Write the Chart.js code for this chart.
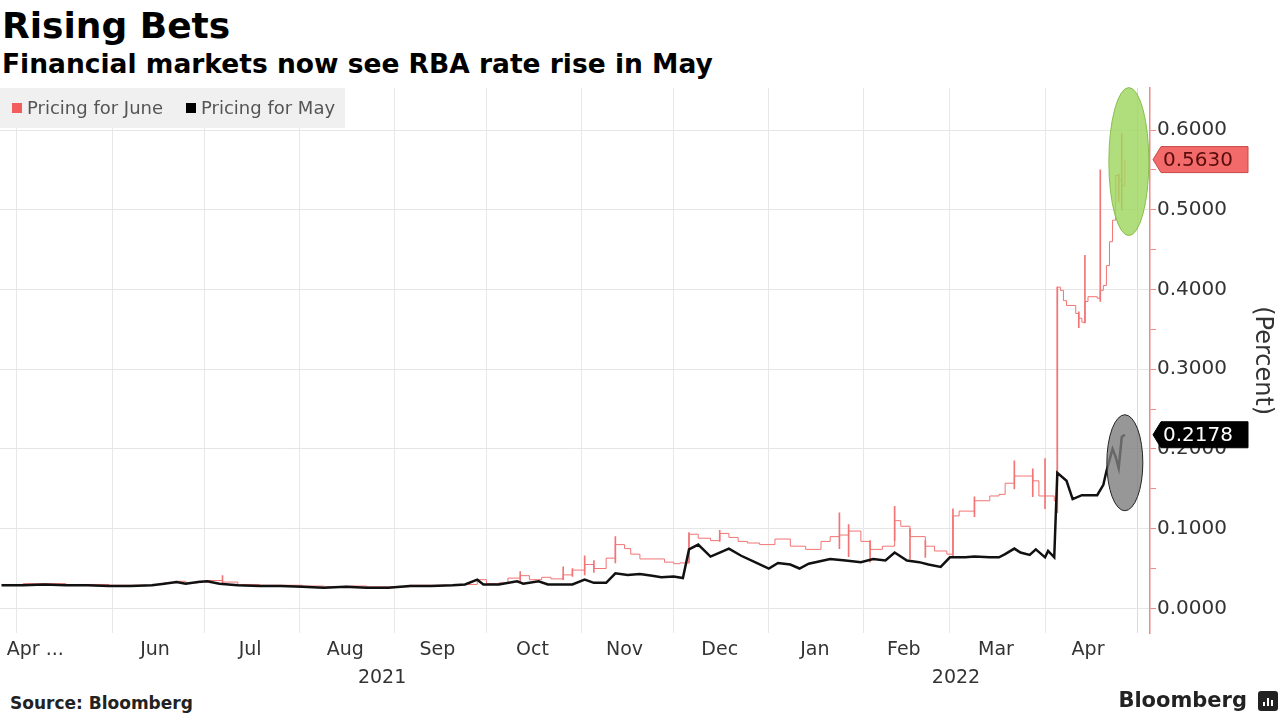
<!DOCTYPE html>
<html>
<head>
<meta charset="utf-8">
<title>Rising Bets</title>
<script src="https://cdn.jsdelivr.net/npm/chart.js@4.4.1/dist/chart.umd.min.js"></script>
<style>
body { margin: 0; background: #fff; font-family: "DejaVu Sans", Verdana, sans-serif; }
#page { position: relative; width: 1280px; height: 718px; overflow: hidden; background: #fff; }
#title { position: absolute; left: 2px; top: 4px; font-size: 36px; font-weight: bold; line-height: 44px; color: #000; }
#subtitle { position: absolute; left: 2px; top: 48px; font-size: 26.5px; font-weight: bold; line-height: 32px; color: #000; }
#wrap { position: absolute; left: 0; top: 80px; width: 1280px; height: 609px; }
#source { position: absolute; left: 10px; top: 693px; font-size: 17px; font-weight: bold; color: #222; }
#brand { position: absolute; right: 33px; top: 688px; font-size: 21px; font-weight: bold; color: #222; }
#logo { position: absolute; right: 2px; top: 691px; width: 20px; height: 20px; background: #222; border-radius: 3px; }
#logo span { position: absolute; bottom: 5px; width: 2px; background: #fff; }
</style>
</head>
<body>
<div id="page">
	<div id="title">Rising Bets</div>
	<div id="subtitle">Financial markets now see RBA rate rise in May</div>
	<div id="wrap"><canvas id="chart"></canvas></div>
	<div id="source">Source: Bloomberg</div>
	<div id="brand">Bloomberg</div>
	<div id="logo"><span style="left:5px;height:4px"></span><span style="left:9px;height:8px"></span><span style="left:13px;height:6px"></span></div>
</div>
<script>
// Pricing for May (black line)
var mayDates = [
	'2021-04-26','2021-05-03','2021-05-10','2021-05-17','2021-05-24','2021-05-31','2021-06-07','2021-06-14',
	'2021-06-18','2021-06-22','2021-06-25','2021-06-29','2021-07-02','2021-07-06','2021-07-12','2021-07-19',
	'2021-07-26','2021-08-02','2021-08-09','2021-08-16','2021-08-23','2021-08-30','2021-09-06','2021-09-13',
	'2021-09-20','2021-09-24','2021-09-28','2021-09-30','2021-10-05','2021-10-11','2021-10-13','2021-10-18',
	'2021-10-21','2021-10-25','2021-10-29','2021-11-02','2021-11-05','2021-11-09','2021-11-12','2021-11-16',
	'2021-11-20','2021-11-24','2021-11-27','2021-12-01','2021-12-04','2021-12-06','2021-12-09','2021-12-13',
	'2021-12-16','2021-12-19','2021-12-23','2021-12-28','2022-01-01','2022-01-04','2022-01-08','2022-01-11',
	'2022-01-14','2022-01-21','2022-01-26','2022-01-31','2022-02-04','2022-02-08','2022-02-11','2022-02-15',
	'2022-02-19','2022-02-22','2022-02-26','2022-03-01','2022-03-06','2022-03-09','2022-03-14','2022-03-17',
	'2022-03-19','2022-03-22','2022-03-24','2022-03-27','2022-03-29','2022-04-01','2022-04-02','2022-04-04',
	'2022-04-05','2022-04-08','2022-04-10','2022-04-13','2022-04-18','2022-04-20','2022-04-21','2022-04-23',
	'2022-04-24','2022-04-25','2022-04-26','2022-04-27'
];
var mayValues = [
	0.029, 0.029, 0.030, 0.029, 0.029, 0.028, 0.028, 0.029,
	0.031, 0.033, 0.031, 0.033, 0.034, 0.031, 0.029, 0.028,
	0.028, 0.027, 0.026, 0.027, 0.026, 0.026, 0.028, 0.028,
	0.029, 0.030, 0.036, 0.030, 0.030, 0.034, 0.031, 0.034,
	0.030, 0.030, 0.030, 0.036, 0.032, 0.032, 0.044, 0.042,
	0.043, 0.041, 0.039, 0.040, 0.038, 0.074, 0.080, 0.065,
	0.070, 0.075, 0.066, 0.057, 0.050, 0.057, 0.055, 0.050,
	0.056, 0.062, 0.060, 0.058, 0.062, 0.060, 0.070, 0.060,
	0.058, 0.055, 0.052, 0.064, 0.064, 0.065, 0.064, 0.064,
	0.068, 0.075, 0.070, 0.067, 0.074, 0.064, 0.072, 0.064,
	0.170, 0.160, 0.137, 0.142, 0.142, 0.155, 0.172, 0.200,
	0.190, 0.176, 0.215, 0.2178
];

// Pricing for June (pink, closes)
var junDates = [
	'2021-04-26','2021-05-03','2021-05-10','2021-05-17','2021-05-24','2021-05-31','2021-06-07','2021-06-14',
	'2021-06-18','2021-06-22','2021-06-25','2021-06-29','2021-07-02','2021-07-07','2021-07-12','2021-07-19',
	'2021-07-26','2021-08-02','2021-08-09','2021-08-16','2021-08-23','2021-08-30','2021-09-06','2021-09-13',
	'2021-09-20','2021-09-28','2021-10-01','2021-10-05','2021-10-08','2021-10-12','2021-10-15','2021-10-19',
	'2021-10-22','2021-10-26','2021-10-29','2021-11-02','2021-11-05','2021-11-09','2021-11-12','2021-11-15',
	'2021-11-17','2021-11-20','2021-11-24','2021-11-28','2021-12-01','2021-12-03','2021-12-06','2021-12-09',
	'2021-12-13','2021-12-16','2021-12-19','2021-12-22','2021-12-25','2021-12-29','2022-01-03','2022-01-08',
	'2022-01-13','2022-01-18','2022-01-21','2022-01-24','2022-01-27','2022-01-31','2022-02-03','2022-02-07',
	'2022-02-11','2022-02-13','2022-02-16','2022-02-21','2022-02-24','2022-02-28','2022-03-02','2022-03-04',
	'2022-03-09','2022-03-14','2022-03-17','2022-03-19','2022-03-22','2022-03-25','2022-03-28','2022-03-30',
	'2022-04-01','2022-04-04','2022-04-05','2022-04-06','2022-04-07','2022-04-08','2022-04-11','2022-04-12',
	'2022-04-13','2022-04-14','2022-04-15','2022-04-18','2022-04-19','2022-04-20','2022-04-21','2022-04-22',
	'2022-04-23','2022-04-24','2022-04-25','2022-04-26','2022-04-27'
];
var junClose = [
	0.030, 0.031, 0.031, 0.030, 0.030, 0.029, 0.029, 0.030,
	0.032, 0.034, 0.032, 0.034, 0.035, 0.033, 0.030, 0.029,
	0.029, 0.028, 0.027, 0.028, 0.027, 0.027, 0.029, 0.029,
	0.030, 0.036, 0.031, 0.032, 0.038, 0.041, 0.036, 0.039,
	0.037, 0.042, 0.048, 0.055, 0.050, 0.063, 0.080, 0.075,
	0.068, 0.062, 0.062, 0.058, 0.056, 0.057, 0.093, 0.088,
	0.085, 0.094, 0.089, 0.084, 0.082, 0.080, 0.087, 0.078,
	0.074, 0.084, 0.090, 0.092, 0.097, 0.084, 0.074, 0.078,
	0.110, 0.103, 0.090, 0.078, 0.072, 0.068, 0.116, 0.122,
	0.135, 0.141, 0.143, 0.157, 0.166, 0.166, 0.160, 0.141,
	0.141, 0.135, 0.403, 0.399, 0.386, 0.380, 0.370, 0.364,
	0.359, 0.385, 0.391, 0.389, 0.399, 0.405, 0.430, 0.460,
	0.487, 0.543, 0.537, 0.530, 0.563
];

// Pricing for June, intraday high/low spikes
var junRangeDates = [
	'2021-07-07','2021-10-12','2021-10-26','2021-10-29','2021-11-02','2021-11-05','2021-11-12','2021-12-06',
	'2021-12-16','2022-01-24','2022-01-27','2022-02-03','2022-02-11','2022-02-16','2022-02-21','2022-03-02',
	'2022-03-09','2022-03-22','2022-03-28','2022-04-01','2022-04-05','2022-04-12','2022-04-14','2022-04-19',
	'2022-04-25','2022-04-26'
];
var junRangeLow = [
	0.030, 0.034, 0.036, 0.040, 0.042, 0.045, 0.057, 0.057,
	0.084, 0.075, 0.065, 0.058, 0.085, 0.062, 0.064, 0.066,
	0.115, 0.150, 0.140, 0.125, 0.120, 0.352, 0.358, 0.385,
	0.510, 0.500
];
var junRangeHigh = [
	0.041, 0.046, 0.052, 0.050, 0.066, 0.060, 0.090, 0.095,
	0.098, 0.120, 0.105, 0.085, 0.128, 0.100, 0.085, 0.125,
	0.140, 0.185, 0.175, 0.188, 0.403, 0.372, 0.443, 0.550,
	0.545, 0.596
];

// axes
var monthGridDates = ['2021-05-01','2021-06-01','2021-07-01','2021-08-01','2021-09-01','2021-10-01','2021-11-01',
	'2021-12-01','2022-01-01','2022-02-01','2022-03-01','2022-04-01','2022-05-01'];
var monthLabels = ['Apr ...','Jun','Jul','Aug','Sep','Oct','Nov','Dec','Jan','Feb','Mar','Apr'];
var monthLabelDates = ['2021-05-07','2021-06-15','2021-07-16','2021-08-16','2021-09-15','2021-10-16','2021-11-15',
	'2021-12-16','2022-01-16','2022-02-14','2022-03-16','2022-04-15'];
var yearLabels = ['2021','2022'];
var yearLabelDates = ['2021-08-28','2022-03-03'];
var yMajorTicks = [0, 0.1, 0.2, 0.3, 0.4, 0.5, 0.6];
var yMinorTicks = [0.05, 0.15, 0.25, 0.35, 0.45, 0.55];

var FONT = '"DejaVu Sans", Verdana, sans-serif';
var PINK = '#f27474';
var AXIS_PINK = '#f08a8a';

var base = Date.parse('2021-05-01');
function toDay(d)
{
	return (Date.parse(d) - base) / 86400000;
}

var xMin = -5.5, xMax = 369.2;

function noPad(s)
{
	s.paddingLeft = 0;
	s.paddingRight = 0;
}

function labelAxis(dates, labels, weight, pad)
{
	return {
		type: 'linear', position: 'bottom', min: xMin, max: xMax, weight: weight, offset: false,
		afterBuildTicks: function(s) { s.ticks = dates.map(function(d) { return {value: toDay(d)}; }); },
		afterFit: noPad,
		ticks: {
			callback: function(v, i) { return labels[i]; },
			autoSkip: false, maxRotation: 0, minRotation: 0,
			font: {size: 19, family: FONT}, color: '#333', padding: pad
		},
		grid: {display: false, drawTicks: false},
		border: {display: false}
	};
}

// gray legend box sitting in the top left corner of the plot
var legendBox = {
	id: 'legendBox',
	beforeDatasetsDraw: function(chart)
	{
		var ctx = chart.ctx, a = chart.chartArea;
		var items = [chart.data.datasets[1], chart.data.datasets[0]];
		var xs = [12, 186];
		ctx.save();
		ctx.fillStyle = '#f0f0f0';
		ctx.fillRect(a.left, a.top, 345, 40);
		ctx.font = '18px ' + FONT;
		ctx.textBaseline = 'middle';
		items.forEach(function(ds, i) {
			ctx.fillStyle = ds.borderColor === '#111' ? '#000' : '#f25c5c';
			ctx.fillRect(a.left + xs[i], a.top + 15, 10, 10);
			ctx.fillStyle = '#555';
			ctx.fillText(ds.label, a.left + xs[i] + 15, a.top + 21);
		});
		ctx.restore();
	}
};

// ellipses around the latest readings and the value tags on the axis
var marks = {
	id: 'marks',
	afterDatasetsDraw: function(chart)
	{
		var ctx = chart.ctx, x = chart.scales.x, y = chart.scales.y;
		var jx = x.getPixelForValue(toDay(junDates[junDates.length - 1]));
		var jy = y.getPixelForValue(junClose[junClose.length - 1]);
		var mx = x.getPixelForValue(toDay(mayDates[mayDates.length - 1]));
		var my = y.getPixelForValue(mayValues[mayValues.length - 1]);
		ctx.save();
		ctx.beginPath();
		ctx.ellipse(jx + 4, jy + 2, 20, 74, 0, 0, Math.PI * 2);
		ctx.fillStyle = 'rgba(160, 215, 95, 0.82)';
		ctx.fill();
		ctx.lineWidth = 1;
		ctx.strokeStyle = 'rgba(130, 185, 70, 0.9)';
		ctx.stroke();
		ctx.beginPath();
		ctx.ellipse(mx, my + 28, 18, 48, 0, 0, Math.PI * 2);
		ctx.fillStyle = 'rgba(125, 125, 125, 0.8)';
		ctx.fill();
		ctx.strokeStyle = '#222';
		ctx.stroke();
		ctx.restore();
	},
	afterDraw: function(chart)
	{
		var ctx = chart.ctx, y = chart.scales.y, a = chart.chartArea;
		var tags = [
			{v: junClose[junClose.length - 1], fill: '#f26a6a', stroke: '#c94848', color: '#5a0c0c'},
			{v: mayValues[mayValues.length - 1], fill: '#000', stroke: '#000', color: '#fff'}
		];
		ctx.save();
		ctx.font = '20px ' + FONT;
		ctx.textBaseline = 'middle';
		tags.forEach(function(t) {
			var yc = y.getPixelForValue(t.v), x0 = a.right + 3;
			ctx.beginPath();
			ctx.moveTo(x0, yc);
			ctx.lineTo(x0 + 8, yc - 13);
			ctx.lineTo(x0 + 95, yc - 13);
			ctx.lineTo(x0 + 95, yc + 13);
			ctx.lineTo(x0 + 8, yc + 13);
			ctx.closePath();
			ctx.fillStyle = t.fill;
			ctx.fill();
			ctx.strokeStyle = t.stroke;
			ctx.lineWidth = 1;
			ctx.stroke();
			ctx.fillStyle = t.color;
			ctx.fillText(t.v.toFixed(4), x0 + 10, yc + 1);
		});
		ctx.restore();
	}
};

Chart.defaults.font.family = FONT;

new Chart(
	document.getElementById('chart')
,	{
		type: 'line'
	,	data:
		{
			datasets:
			[
				{
					label: 'Pricing for May'
				,	data: mayDates.map(function(d, i) { return {x: toDay(d), y: mayValues[i]}; })
				,	borderColor: '#111'
				,	borderWidth: 2.5
				,	pointRadius: 0
				,	order: 0
				}
			,	{
					label: 'Pricing for June'
				,	data: junDates.map(function(d, i) { return {x: toDay(d), y: junClose[i]}; })
				,	borderColor: PINK
				,	borderWidth: 1
				,	stepped: true
				,	pointRadius: 0
				,	order: 1
				}
			,	{
					type: 'bar'
				,	label: 'Pricing for June range'
				,	data: junRangeDates.map(function(d, i) { return {x: toDay(d), y: [junRangeLow[i], junRangeHigh[i]]}; })
				,	backgroundColor: PINK
				,	barThickness: 1
				,	order: 2
				}
			]
		}
	,	options:
		{
			responsive: true
		,	maintainAspectRatio: false
		,	animation: false
		,	layout: {padding: {top: 8, left: 0, right: 0, bottom: 0}}
		,	plugins: {legend: {display: false}, tooltip: {enabled: false}}
		,	scales:
			{
				x:
				{
					type: 'linear', position: 'bottom', min: xMin, max: xMax, weight: 0, offset: false
				,	afterBuildTicks: function(s) { s.ticks = monthGridDates.map(function(d) { return {value: toDay(d)}; }); }
				,	afterFit: noPad
				,	ticks: {display: false}
				,	grid:
					{
						color: function(c) { return c.index === monthGridDates.length - 1 ? '#f6cccc' : '#e8e8e8'; }
					,	drawTicks: false
					,	offset: false
					}
				,	border: {display: false}
				}
			,	xm: labelAxis(monthLabelDates, monthLabels, 1, 5)
			,	xy: labelAxis(yearLabelDates, yearLabels, 2, 0)
			,	y:
				{
					type: 'linear', position: 'right', min: -0.0314, max: 0.6528
				,	afterBuildTicks: function(s) {
						s.ticks = yMinorTicks.concat(yMajorTicks).sort(function(a, b) { return a - b; })
							.map(function(v) { return {value: v}; });
					}
				,	afterFit: function(s) { s.width = 130; s.paddingTop = 0; s.paddingBottom = 0; }
				,	ticks:
					{
						callback: function(v) { return yMajorTicks.indexOf(v) >= 0 ? v.toFixed(4) : ''; }
					,	autoSkip: false
					,	font: {size: 20, family: FONT}
					,	color: '#333'
					,	padding: 1
					}
				,	grid:
					{
						color: function(c) { return c.tick && yMajorTicks.indexOf(c.tick.value) >= 0 ? '#e6e6e6' : 'rgba(0,0,0,0)'; }
					,	tickColor: AXIS_PINK
					,	tickLength: 6
					}
				,	border: {color: AXIS_PINK, width: 1.5}
				,	title: {display: true, text: '(Percent)', font: {size: 24, family: FONT}, color: '#333', padding: {top: 3, bottom: 0}}
				}
			}
		}
	,	plugins: [legendBox, marks]
	}
);
</script>
</body>
</html>
